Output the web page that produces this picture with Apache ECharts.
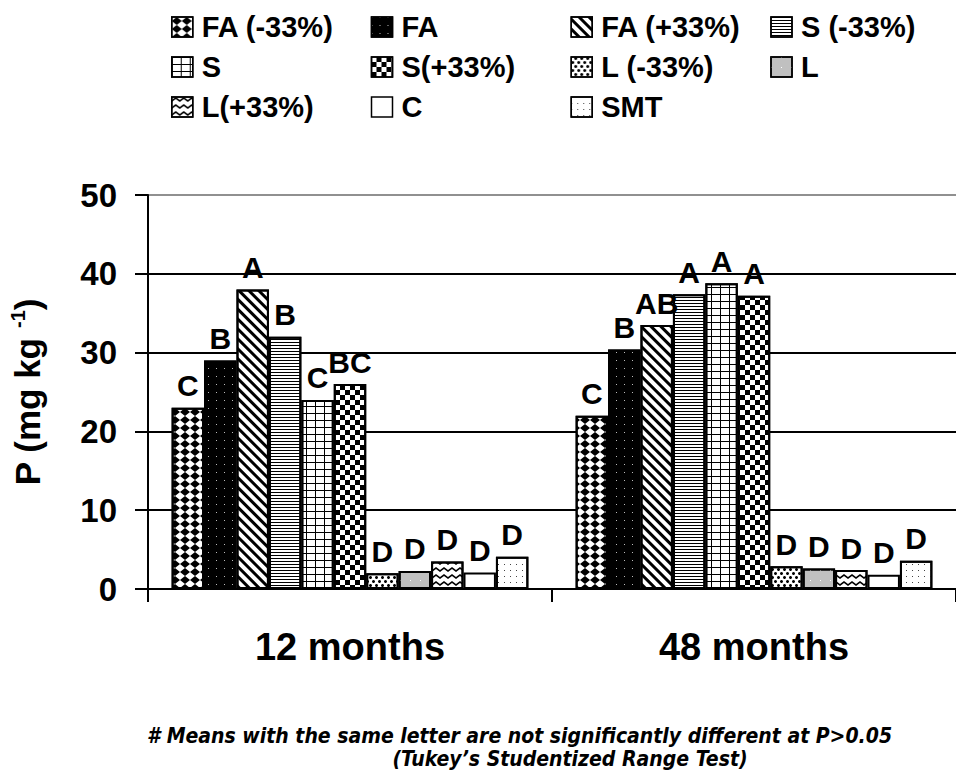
<!DOCTYPE html>
<html>
<head>
<meta charset="utf-8">
<script src="https://cdn.jsdelivr.net/npm/echarts@6/dist/echarts.min.js"></script>
<style>
html,body{margin:0;padding:0;background:#fff;}
#chart{width:956px;height:771px;}
</style>
</head>
<body>
<div id="chart"></div>
<script>
// ---- data ----
const categories = ['12 months', '48 months'];
const seriesNames = ['FA (-33%)', 'FA', 'FA (+33%)', 'S (-33%)', 'S', 'S(+33%)', 'L (-33%)', 'L', 'L(+33%)', 'C', 'SMT'];
const values12 = [23, 29, 38, 32, 24, 26, 2, 2.3, 3.5, 2.1, 4.1];
const values48 = [22, 30.4, 33.5, 37.4, 38.8, 37.2, 2.9, 2.6, 2.4, 1.8, 3.6];
const letters12 = ['C', 'B', 'A', 'B', 'C', 'BC', 'D', 'D', 'D', 'D', 'D'];
const letters48 = ['C', 'B', 'AB', 'A', 'A', 'A', 'D', 'D', 'D', 'D', 'D'];
const yTicks = [0, 10, 20, 30, 40, 50];
const footnote1 = '# Means with the same letter are not significantly different at P>0.05';
const footnote2 = '(Tukey\u2019s Studentized Range Test)';

// ---- styles ----
const FONT = '"Liberation Sans", Arial, sans-serif';
const NOTE_FONT = 'italic bold 21px "Liberation Sans Narrow", "DejaVu Sans Condensed", sans-serif';
const styles = [
  {color: '#fff', decal: {symbol: 'diamond', symbolSize: 1, color: '#000', dashArrayX: [10, 0], dashArrayY: [8, 0]}},
  {color: '#000', decal: {symbol: 'rect', symbolSize: 1, color: '#bbb', dashArrayX: [1, 7], dashArrayY: [1, 7]}},
  {color: '#fff', decal: {symbol: 'rect', symbolSize: 1, color: '#000', dashArrayX: [1, 0], dashArrayY: [3, 4], rotation: Math.PI / 4}},
  {color: '#fff', decal: {symbol: 'rect', symbolSize: 1, color: '#000', dashArrayX: [1, 0], dashArrayY: [1, 2]}},
  {color: '#fff', decal: {symbol: 'path://M0,0L9,0L9,1L1,1L1,7L0,7Z', symbolSize: 1, color: '#000', dashArrayX: [9, 0], dashArrayY: [7, 0]}},
  {color: '#fff', decal: {symbol: 'rect', symbolSize: 1, color: '#000', dashArrayX: [[5, 5], [0, 5, 5, 0]], dashArrayY: [5, 0]}},
  {color: '#fff', decal: {symbol: 'circle', symbolSize: 1, color: '#000', dashArrayX: [[3, 3], [0, 3, 3, 0]], dashArrayY: [3, 1]}},
  {color: '#c0c0c0', decal: {symbol: 'rect', symbolSize: 1, color: '#fff', dashArrayX: [1, 9], dashArrayY: [1, 9]}},
  {color: '#fff', decal: {symbol: 'path://M0,3L4,0L8,3L8,5L4,2L0,5Z', symbolSize: 1, color: '#000', dashArrayX: [8, 0], dashArrayY: [5, 2]}},
  {color: '#fff', decal: null},
  {color: '#fff', decal: {symbol: 'rect', symbolSize: 1, color: '#444', dashArrayX: [1, 5], dashArrayY: [1, 5]}}
];

const chart = echarts.init(document.getElementById('chart'), null, {renderer: 'svg'});

const series = seriesNames.map(function (name, i) {
  const st = styles[i];
  const itemStyle = {color: st.color, borderColor: '#000', borderWidth: 2};
  if (st.decal) itemStyle.decal = st.decal;
  return {
    name: name,
    type: 'bar',
    barGap: '0%',
    barCategoryGap: '11.7%',
    data: [values12[i], values48[i]],
    itemStyle: itemStyle,
    label: {
      show: true,
      position: 'top',
      distance: 7,
      color: '#000',
      fontFamily: FONT,
      fontWeight: 'bold',
      fontSize: 30,
      formatter: function (p) { return p.dataIndex === 0 ? letters12[i] : letters48[i]; }
    },
    emphasis: {disabled: true},
    animation: false
  };
});

const option = {
  animation: false,
  backgroundColor: '#fff',
  textStyle: {fontFamily: FONT},
  legend: {
    left: 171,
    top: 12,
    width: 790,
    padding: 0,
    orient: 'horizontal',
    icon: 'rect',
    itemWidth: 21,
    itemHeight: 20,
    itemGap: 10,
    selectedMode: false,
    itemStyle: {borderColor: '#000', borderWidth: 1.5},
    textStyle: {fontFamily: FONT, fontWeight: 'bold', fontSize: 29, color: '#000', width: 159, lineHeight: 30, padding: [0, 0, 0, 4]},
    data: seriesNames
  },
  grid: {left: 148, top: 195, bottom: 182, right: -10, containLabel: false},
  xAxis: {
    type: 'category',
    data: categories,
    axisLine: {lineStyle: {color: '#000', width: 2}},
    axisTick: {show: true, length: 13, lineStyle: {color: '#000', width: 2}},
    axisLabel: {fontFamily: FONT, fontWeight: 'bold', fontSize: 38, color: '#000', margin: 39}
  },
  yAxis: {
    type: 'value',
    min: yTicks[0],
    max: yTicks[yTicks.length - 1],
    interval: yTicks[1] - yTicks[0],
    name: '{a|P (mg kg }{s|-1}{a|)}',
    nameLocation: 'middle',
    nameRotate: 90,
    nameGap: 102,
    nameTextStyle: {
      rich: {
        a: {fontFamily: FONT, fontWeight: 'bold', fontSize: 35, color: '#000', lineHeight: 38},
        s: {fontFamily: FONT, fontWeight: 'bold', fontSize: 20, color: '#000', verticalAlign: 'top', lineHeight: 38}
      }
    },
    axisLine: {show: true, lineStyle: {color: '#000', width: 2}},
    axisTick: {show: true, length: 13, lineStyle: {color: '#000', width: 2}},
    axisLabel: {fontFamily: FONT, fontWeight: 'bold', fontSize: 33, color: '#000', margin: 31},
    splitLine: {show: true, lineStyle: {color: ['#000', '#000', '#000', '#000', '#000', '#909090'], width: 2}}
  },
  graphic: [
    {type: 'text', x: 147, y: 736, style: {text: footnote1, fill: '#000', font: NOTE_FONT, textAlign: 'left', textVerticalAlign: 'middle'}},
    {type: 'text', x: 570, y: 759, style: {text: footnote2, fill: '#000', font: NOTE_FONT, textAlign: 'center', textVerticalAlign: 'middle'}}
  ],
  series: series
};
chart.setOption(option);
</script>
</body>
</html>
